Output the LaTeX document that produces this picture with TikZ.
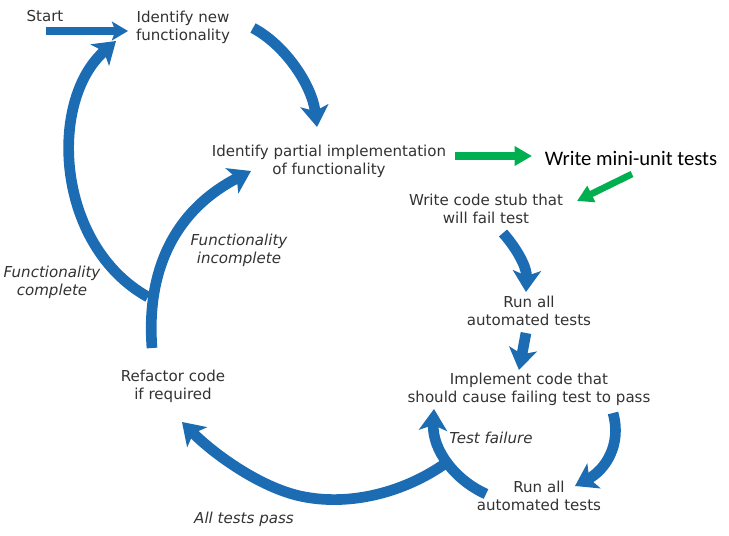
\documentclass[tikz,border=0pt]{standalone}
\usepackage{fontspec}
\setmainfont{DejaVu Sans}
\newfontfamily\calib{Carlito}
\usetikzlibrary{arrows.meta}
\definecolor{flowblue}{RGB}{28,108,180}
\definecolor{flowgreen}{RGB}{0,176,80}
\definecolor{txtgray}{RGB}{51,51,51}
\begin{document}
\begin{tikzpicture}[x=0.75pt,y=-0.75pt,
  lbl/.style={inner sep=0pt, align=center, text=txtgray, font=\fontsize{11.3}{13.5}\selectfont},
  note/.style={inner sep=0pt, align=center, text=txtgray, font=\fontsize{11.3}{13.5}\selectfont\itshape},
  flow/.style={draw=flowblue, line width=8pt, -{Stealth[length=16pt,width=21pt,inset=4pt]}},
  startflow/.style={draw=flowblue, line width=6pt, -{Stealth[length=12pt,width=14pt,inset=2.5pt]}},
  greenflow/.style={draw=flowgreen, line width=6pt, -{Triangle[length=13pt,width=14pt]}},
  greenthin/.style={draw=flowgreen, line width=5pt, -{Triangle[length=12pt,width=13pt]}}]
\useasboundingbox (0,0) rectangle (729,536);
\fill[white] (0,0) rectangle (729,536);

% nodes
\node[lbl] (start) at (45,16) {Start};
\node[lbl] (idnew) at (183,27) {Identify new\\functionality};
\node[lbl] (idpart) at (329,161) {Identify partial implementation\\of functionality};
\node[inner sep=0pt, font=\calib\fontsize{15.5}{18}\selectfont] (mini) at (631,158) {Write mini-unit tests};
\node[lbl] (stub) at (486,209) {Write code stub that\\will fail test};
\node[lbl] (run1) at (529,311) {Run all\\automated tests};
\node[lbl] (impl) at (529,389) {Implement code that\\should cause failing test to pass};
\node[lbl] (run2) at (539,496) {Run all\\automated tests};
\node[lbl] (refac) at (173,386) {Refactor code\\if required};
\node[note] (finc) at (239,250) {Functionality\\incomplete};
\node[note] (fcomp) at (52,282) {Functionality\\complete};
\node[note] (tfail) at (491,438) {Test failure};
\node[note] (apass) at (244,519) {All tests pass};

% coordinates for arrow ends
\coordinate (s0) at (46,31);
\coordinate (s1) at (128,31);
\coordinate (a0) at (253,28);
\coordinate (a1) at (317,127);
\coordinate (yj) at (148,297);
\coordinate (l1) at (116,41);
\coordinate (i0) at (152,348);
\coordinate (i1) at (251,171);
\coordinate (g0) at (455,156);
\coordinate (g1) at (532,156);
\coordinate (h0) at (632,174);
\coordinate (h1) at (577,201);
\coordinate (b0) at (503,233);
\coordinate (b1) at (526,292);
\coordinate (c0) at (526,333);
\coordinate (c1) at (519,370);
\coordinate (d0) at (613,413);
\coordinate (d1) at (575,486);
\coordinate (e0) at (486,494);
\coordinate (e1) at (434,409);
\coordinate (yk) at (446,463);
\coordinate (f1) at (182,422);

% blue arrows
\draw[startflow] (s0) -- (s1);
\draw[flow] (a0) .. controls (285,45) and (312,85) .. (a1);
\draw[flow] (yj) .. controls (55,245) and (48,100) .. (l1);
\draw[flow] (i0) .. controls (146,270) and (175,210) .. (i1);
\draw[flow] (b0) .. controls (518,250) and (527,268) .. (b1);
\draw[flow] (c0) -- (c1);
\draw[flow] (d0) .. controls (622,445) and (605,470) .. (d1);
\draw[flow] (e0) .. controls (455,480) and (432,450) .. (e1);
\draw[flow] (yk) .. controls (405,492) and (350,507) .. (300,496) .. controls (260,487) and (215,455) .. (f1);

% green arrows
\draw[greenflow] (g0) -- (g1);
\draw[greenthin] (h0) -- (h1);
\end{tikzpicture}
\end{document}
